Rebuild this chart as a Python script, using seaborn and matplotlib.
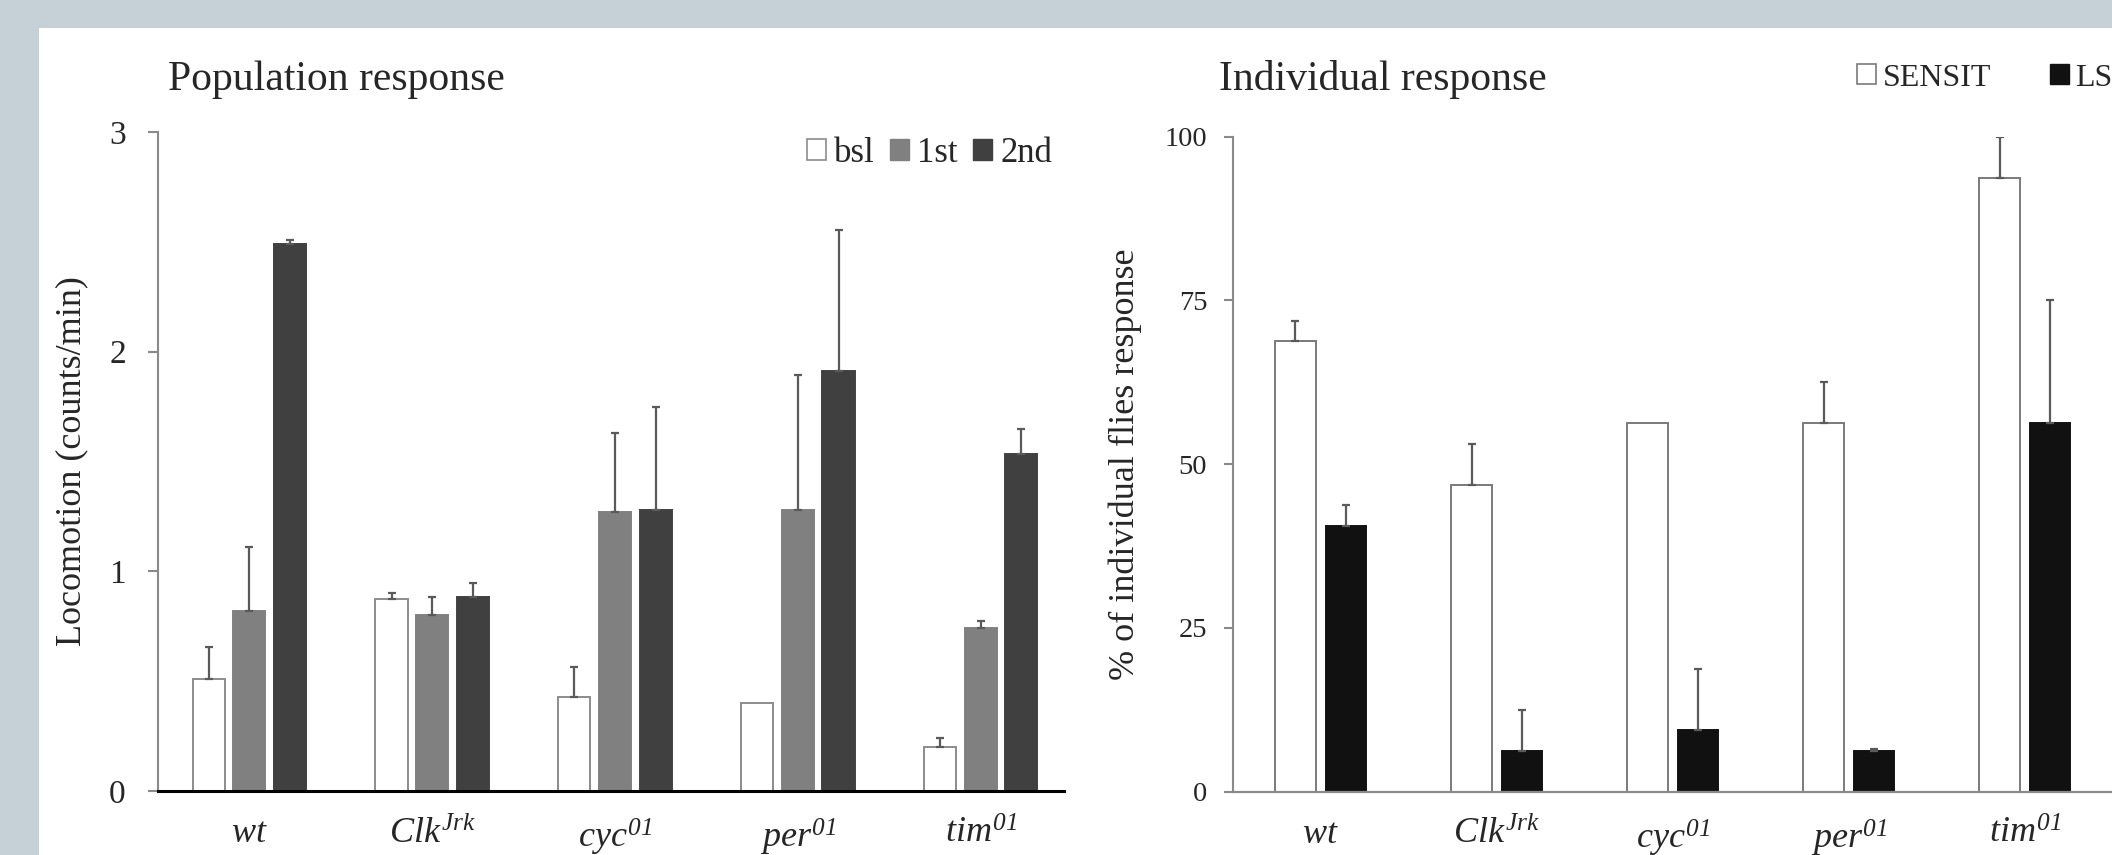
import numpy as np
import pandas as pd
import matplotlib
matplotlib.use("Agg")
import matplotlib.pyplot as plt
import seaborn as sns
from matplotlib.patches import Patch, Rectangle

# ---- data -------------------------------------------------------------
genotypes = ["wt", "ClkJrk", "cyc01", "per01", "tim01"]
genotype_labels = [
    r"$\mathit{wt}$",
    r"$\mathit{Clk}^{\mathit{Jrk}}$",
    r"$\mathit{cyc}^{\mathit{01}}$",
    r"$\mathit{per}^{\mathit{01}}$",
    r"$\mathit{tim}^{\mathit{01}}$",
]

# Population response: locomotion (counts/min), mean and upper error
phases = ["bsl", "1st", "2nd"]
bsl_mean = [0.51, 0.875, 0.43, 0.40, 0.20]
bsl_err = [0.145, 0.025, 0.135, 0.0, 0.04]
first_mean = [0.82, 0.80, 1.27, 1.28, 0.74]
first_err = [0.29, 0.085, 0.36, 0.615, 0.035]
second_mean = [2.49, 0.885, 1.28, 1.91, 1.535]
second_err = [0.02, 0.06, 0.47, 0.645, 0.115]

# Individual response: % of flies responding, mean and upper error
methods = ["SENSIT", "LSD"]
sensit_mean = [68.75, 46.875, 56.25, 56.25, 93.75]
sensit_err = [3.125, 6.25, 0.0, 6.25, 6.25]
lsd_mean = [40.625, 6.25, 9.375, 6.25, 56.25]
lsd_err = [3.125, 6.25, 9.375, 0.3, 18.75]

# ---- styling ----------------------------------------------------------
sns.set_theme(style="white")
plt.rcParams["font.family"] = ["Liberation Serif", "DejaVu Serif"]
plt.rcParams["mathtext.fontset"] = "custom"
# genotype names are fully italic, including the numeric allele superscripts
plt.rcParams["mathtext.rm"] = "Liberation Serif:italic"
plt.rcParams["mathtext.it"] = "Liberation Serif:italic"

W, H = 2112, 855
fig = plt.figure(figsize=(W / 100, H / 100), dpi=100)
fig.patch.set_facecolor("#C6D1D7")
fig.patches.append(Rectangle((39 / W, 0), 1, 1 - 28 / H, transform=fig.transFigure,
                             facecolor="white", edgecolor="none", zorder=-10))

axis_gray = "#8A8A8A"
err_color = "#5A5A5A"


def px_axes(x0, x1, ytop, ybot):
    return fig.add_axes([x0 / W, (H - ybot) / H, (x1 - x0) / W, (ybot - ytop) / H])


def add_errors(ax, containers, errs):
    for cont, err in zip(containers, errs):
        for bar, e in zip(cont, err):
            if e <= 0:
                continue
            x = bar.get_x() + bar.get_width() / 2
            y = bar.get_height()
            ax.errorbar([x], [y], yerr=[[0], [e]], fmt="none", ecolor=err_color,
                        elinewidth=1.6, capsize=2.6, capthick=1.6, zorder=5)


def style_axis(ax, bottom_color, bottom_lw, tick_len):
    sns.despine(ax=ax, top=True, right=True)
    ax.spines["left"].set_color(axis_gray)
    ax.spines["left"].set_linewidth(1.5)
    ax.spines["bottom"].set_color(bottom_color)
    ax.spines["bottom"].set_linewidth(bottom_lw)
    ax.tick_params(axis="y", direction="out", length=tick_len, width=1.5,
                   color=axis_gray, left=True)
    ax.tick_params(axis="x", length=0)
    ax.set_facecolor("none")
    ax.grid(False)


# ---- left panel: population response ---------------------------------
pop = pd.DataFrame({
    "genotype": genotypes * 3,
    "phase": np.repeat(phases, len(genotypes)),
    "value": bsl_mean + first_mean + second_mean,
})

axL = px_axes(158, 1064, 132, 791)
sns.barplot(data=pop, x="genotype", y="value", hue="phase", order=genotypes,
            hue_order=phases, palette=["white", "#808080", "#404040"],
            width=0.6675, gap=0.21, errorbar=None, legend=False, ax=axL,
            linewidth=1.4, edgecolor="#8C8C8C", saturation=1)
edge_left = ["#8C8C8C", "#808080", "#404040"]
for cont, ec in zip(axL.containers, edge_left):
    for bar in cont:
        bar.set_edgecolor(ec)
add_errors(axL, axL.containers, [bsl_err, first_err, second_err])
axL.set_xlim(-0.5, 4.456)
axL.set_ylim(0, 3)
axL.set_yticks([0, 1, 2, 3])
axL.set_yticklabels(["0", "1", "2", "3"], fontsize=24)
axL.set_xticks(range(len(genotypes)))
axL.set_xticklabels(genotype_labels, fontsize=26)
axL.tick_params(axis="x", pad=19)
axL.tick_params(axis="y", pad=16)
axL.set_xlabel("")
axL.set_ylabel("Locomotion (counts/min)", fontsize=26)
axL.yaxis.set_label_coords(-0.077, 0.5)
style_axis(axL, "#000000", 2.2, 7.2)

handlesL = [Patch(facecolor="white", edgecolor="#8C8C8C", linewidth=1.2),
            Patch(facecolor="#808080", edgecolor="#808080"),
            Patch(facecolor="#404040", edgecolor="#404040")]
axL.legend(handlesL, phases, loc="center right",
           bbox_to_anchor=(1052 / W, (H - 153) / H), bbox_transform=fig.transFigure,
           ncol=3, frameon=False, borderpad=0, borderaxespad=0, fontsize=25,
           handlelength=0.55, handleheight=0.55, handletextpad=0.22,
           columnspacing=0.45)

fig.text(168 / W, (H - 90) / H, "Population response", fontsize=30,
         va="baseline", ha="left")

# ---- right panel: individual response ---------------------------------
ind = pd.DataFrame({
    "genotype": genotypes * 2,
    "method": np.repeat(methods, len(genotypes)),
    "value": sensit_mean + lsd_mean,
})

axR = px_axes(1232.7, 2113, 136.7, 791.7)
sns.barplot(data=ind, x="genotype", y="value", hue="method", order=genotypes,
            hue_order=methods, palette=["white", "#111111"],
            width=0.574, gap=0.2, errorbar=None, legend=False, ax=axR,
            linewidth=1.4, edgecolor="#7A7A7A", saturation=1)
for cont, ec in zip(axR.containers, ["#7A7A7A", "#111111"]):
    for bar in cont:
        bar.set_edgecolor(ec)
add_errors(axR, axR.containers, [sensit_err, lsd_err])
axR.set_xlim(-0.5, 4.5)
axR.set_ylim(0, 100)
axR.set_yticks([0, 25, 50, 75, 100])
axR.set_yticklabels(["0", "25", "50", "75", "100"], fontsize=20.5)
axR.set_xticks(range(len(genotypes)))
axR.set_xticklabels(genotype_labels, fontsize=26)
axR.tick_params(axis="x", pad=19)
axR.tick_params(axis="y", pad=12)
axR.set_xlabel("")
axR.set_ylabel("% of individual flies response", fontsize=26)
axR.yaxis.set_label_coords(-0.103, 0.5)
style_axis(axR, axis_gray, 1.6, 6.3)

handlesR = [Patch(facecolor="white", edgecolor="#7A7A7A", linewidth=1.2),
            Patch(facecolor="#111111", edgecolor="#111111")]
axR.legend(handlesR, methods, loc="center left",
           bbox_to_anchor=(1857 / W, (H - 78) / H), bbox_transform=fig.transFigure,
           ncol=2, frameon=False, borderpad=0, borderaxespad=0, fontsize=23,
           handlelength=0.58, handleheight=0.58, handletextpad=0.22,
           columnspacing=1.85)

fig.text(1219 / W, (H - 90) / H, "Individual response", fontsize=30,
         va="baseline", ha="left")

fig.savefig("out.png", dpi=100, facecolor=fig.get_facecolor())
